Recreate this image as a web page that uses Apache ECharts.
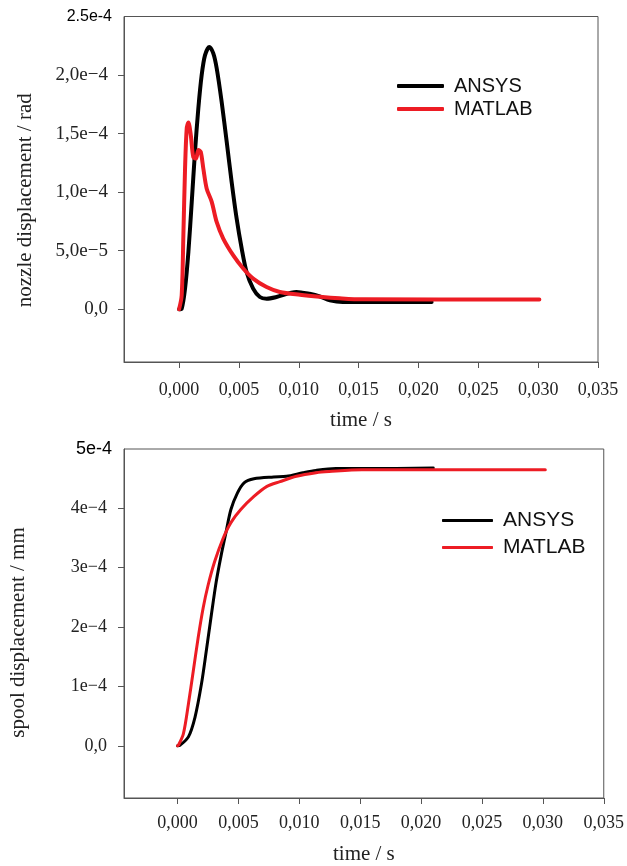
<!DOCTYPE html>
<html>
<head>
<meta charset="UTF-8">
<title>nozzle / spool displacement</title>
<script src="https://cdn.jsdelivr.net/npm/echarts@6/dist/echarts.min.js"></script>
<style>
html, body { margin: 0; padding: 0; background: #fff; }
#main { width: 627px; height: 866px; }
</style>
</head>
<body>
<div id="main"></div>
<script>
// top panel - nozzle displacement (rad) vs time (s)
var nozzleAnsysT = [0, 0.00022, 0.0005, 0.00078, 0.00106, 0.00133, 0.00161, 0.00189, 0.00217, 0.00253, 0.00286, 0.00314, 0.00356, 0.00398, 0.00439, 0.00481, 0.00523, 0.00564, 0.00619, 0.00675, 0.00731, 0.00814, 0.0098, 0.0109, 0.01175, 0.0126, 0.01367, 0.0211];
var nozzleAnsysV = [0, 0.6e-6, 1.77e-5, 4.9e-5, 9.17e-5, 1.344e-4, 1.715e-4, 2.0e-4, 2.17e-4, 2.24e-4, 2.185e-4, 2.06e-4, 1.77e-4, 1.43e-4, 1.09e-4, 7.75e-5, 5.2e-5, 3.19e-5, 1.77e-5, 1.05e-5, 9.1e-6, 1.05e-5, 1.48e-5, 1.32e-5, 1.11e-5, 7.7e-6, 6.2e-6, 6.2e-6];
var nozzleMatlabT = [0, 0.00022, 0.00036, 0.0005, 0.00064, 0.00078, 0.00098, 0.00119, 0.00142, 0.00161, 0.00181, 0.00203, 0.00231, 0.00273, 0.00314, 0.00369, 0.00453, 0.00536, 0.00619, 0.00731, 0.00842, 0.0101, 0.01175, 0.0134, 0.0153, 0.0301];
var nozzleMatlabV = [0, 1.2e-5, 6.3e-5, 1.2e-4, 1.545e-4, 1.596e-4, 1.487e-4, 1.3e-4, 1.288e-4, 1.36e-4, 1.344e-4, 1.2e-4, 1.03e-4, 9.17e-5, 7.46e-5, 6.04e-5, 4.6e-5, 3.48e-5, 2.62e-5, 1.9e-5, 1.48e-5, 1.24e-5, 1.07e-5, 9.4e-6, 8.5e-6, 8.3e-6];

// bottom panel - spool displacement (mm) vs time (s)
var spoolAnsysT = [0, 0.00022, 0.00089, 0.00143, 0.00196, 0.00236, 0.00277, 0.00317, 0.00357, 0.00398, 0.00438, 0.00492, 0.00546, 0.00627, 0.00788, 0.00895, 0.0103, 0.01137, 0.013, 0.01567, 0.021];
var spoolAnsysV = [0, 1.2e-6, 1.5e-5, 4.8e-5, 1.04e-4, 1.6e-4, 2.2e-4, 2.76e-4, 3.2e-4, 3.6e-4, 3.98e-4, 4.26e-4, 4.43e-4, 4.5e-4, 4.53e-4, 4.54e-4, 4.6e-4, 4.64e-4, 4.67e-4, 4.67e-4, 4.68e-4];
var spoolMatlabT = [0, 0.00008, 0.00048, 0.00089, 0.00129, 0.00169, 0.0021, 0.0025, 0.00304, 0.00371, 0.00438, 0.00519, 0.00627, 0.00734, 0.00841, 0.00976, 0.01137, 0.01244, 0.01514, 0.0302];
var spoolMatlabV = [0, 1.2e-6, 2.05e-5, 7.05e-5, 1.26e-4, 1.82e-4, 2.32e-4, 2.7e-4, 3.1e-4, 3.48e-4, 3.76e-4, 3.98e-4, 4.2e-4, 4.37e-4, 4.45e-4, 4.54e-4, 4.6e-4, 4.62e-4, 4.65e-4, 4.65e-4];

// ticks / labels
var timeTicks = [0, 0.005, 0.01, 0.015, 0.02, 0.025, 0.03, 0.035];
var timeLabels = ['0,000', '0,005', '0,010', '0,015', '0,020', '0,025', '0,030', '0,035'];
var nozzleTicks = [0, 5e-5, 1e-4, 1.5e-4, 2e-4, 2.5e-4];
var nozzleLabels = ['0,0', '5,0e\u22125', '1,0e\u22124', '1,5e\u22124', '2,0e\u22124', '2.5e-4'];
var spoolTicks = [0, 1e-4, 2e-4, 3e-4, 4e-4, 5e-4];
var spoolLabels = ['0,0', '1e\u22124', '2e\u22124', '3e\u22124', '4e\u22124', '5e-4'];
var seriesNames = ['ANSYS', 'MATLAB'];

var SERIF = 'Liberation Serif';
var SANS = 'Liberation Sans';
var AXIS = '#555';

function pairs(t, v) {
    return t.map(function (x, i) { return [x, v[i]]; });
}

function lookup(ticks, labels, val) {
    for (var i = 0; i < ticks.length; i++) {
        if (Math.abs(ticks[i] - val) < 1e-12) return labels[i];
    }
    return '';
}

function timeAxis(grid, min, margin, gap) {
    return {
        type: 'value', gridIndex: grid, min: min, max: 0.035,
        splitLine: { show: false },
        axisLine: { show: true, onZero: false, lineStyle: { color: AXIS } },
        axisTick: { show: true, length: 6, customValues: timeTicks, lineStyle: { color: AXIS } },
        axisLabel: {
            customValues: timeTicks, margin: margin,
            fontFamily: SERIF, fontSize: 18, color: '#222',
            formatter: function (v) { return lookup(timeTicks, timeLabels, v); }
        },
        name: 'time / s', nameLocation: 'middle', nameGap: gap,
        nameTextStyle: { fontFamily: SERIF, fontSize: 21, color: '#222' }
    };
}

function valueAxis(grid, min, max, ticks, labels, name, gap, shift, tickSize, topSize, pad) {
    return {
        type: 'value', gridIndex: grid, min: min, max: max,
        splitLine: { show: false },
        axisLine: { show: true, onZero: false, lineStyle: { color: AXIS } },
        axisTick: { show: true, length: 6, customValues: ticks.slice(0, ticks.length - 1), lineStyle: { color: AXIS } },
        axisLabel: {
            customValues: ticks, margin: 12,
            formatter: function (v) {
                var s = lookup(ticks, labels, v);
                return Math.abs(v - max) < 1e-12 ? '{top|' + s + '}' : '{tk|' + s + '}';
            },
            rich: {
                tk: { fontFamily: SERIF, fontSize: tickSize, color: '#222', padding: [0, pad, 0, 0] },
                top: { fontFamily: SANS, fontSize: topSize, color: '#000' }
            }
        },
        name: name, nameLocation: 'middle', nameGap: gap,
        nameTextStyle: { fontFamily: SERIF, fontSize: 21, color: '#222', padding: [0, shift, 0, 0] }
    };
}

function lineSeries(name, xi, data, color, width) {
    return {
        name: name, type: 'line', xAxisIndex: xi, yAxisIndex: xi,
        data: data, symbol: 'none', smooth: 0.3,
        lineStyle: { color: color, width: width, cap: 'round', join: 'round' },
        itemStyle: { color: color }
    };
}

var myChart = echarts.init(document.getElementById('main'));

myChart.setOption({
    backgroundColor: '#fff',
    animation: false,
    grid: [
        { left: 124, top: 16.5, width: 474, height: 345.5, show: true, borderColor: AXIS, borderWidth: 1 },
        { left: 124, top: 449, width: 489, height: 353, show: true, borderColor: AXIS, borderWidth: 1 }
    ],
    xAxis: [
        timeAxis(0, -0.0046, 19, 48),
        timeAxis(1, -0.0044, 16, 46)
    ],
    yAxis: [
        valueAxis(0, -4.5e-5, 2.5e-4, nozzleTicks, nozzleLabels, 'nozzle displacement / rad', 88, 22, 19, 16, 4),
        valueAxis(1, -8.8e-5, 5e-4, spoolTicks, spoolLabels, 'spool displacement / mm', 95, 18, 18, 18, 5)
    ],
    legend: [
        {
            data: seriesNames, orient: 'vertical', left: 397, top: 76, padding: 0,
            icon: 'roundRect', itemWidth: 47, itemHeight: 4, itemGap: 3,
            textStyle: { fontFamily: SANS, fontSize: 20, color: '#111', padding: [0, 0, 0, 5] }
        },
        {
            data: seriesNames, orient: 'vertical', left: 442, top: 510, padding: 0,
            icon: 'roundRect', itemWidth: 51, itemHeight: 3, itemGap: 6,
            textStyle: { fontFamily: SANS, fontSize: 21, color: '#111', padding: [0, 0, 0, 5] }
        }
    ],
    series: [
        lineSeries(seriesNames[0], 0, pairs(nozzleAnsysT, nozzleAnsysV), '#000', 4),
        lineSeries(seriesNames[1], 0, pairs(nozzleMatlabT, nozzleMatlabV), '#ed1c24', 4),
        lineSeries(seriesNames[0], 1, pairs(spoolAnsysT, spoolAnsysV), '#000', 3),
        lineSeries(seriesNames[1], 1, pairs(spoolMatlabT, spoolMatlabV), '#ed1c24', 3)
    ]
});
</script>
</body>
</html>
